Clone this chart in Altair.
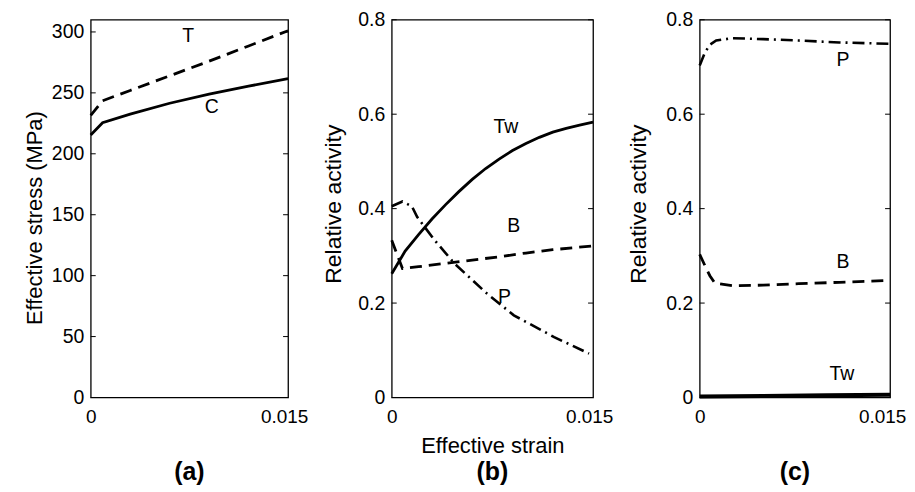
import altair as alt
import pandas as pd

FONT = "Liberation Sans"

# ---------------- data ----------------
# Panel (a): effective stress vs strain
a_strain = [0, 0.0009, 0.003, 0.006, 0.009, 0.012, 0.015]
a_T = [231.5, 243.5, 252, 264, 276, 288.5, 301]
a_C = [215.5, 225.5, 232.6, 241.5, 249, 255.5, 261.7]
a_labels = ["T", "C"]
a_lab_x = [0.0074, 0.0092]
a_lab_y = [297, 238]

# Panel (b): relative activity
b_tw_x = [0, 0.001, 0.002, 0.003, 0.004, 0.005, 0.006, 0.007, 0.008, 0.009, 0.010, 0.011, 0.012, 0.013, 0.014, 0.015]
b_tw_y = [0.262, 0.310, 0.345, 0.378, 0.408, 0.436, 0.462, 0.485, 0.505, 0.523, 0.538, 0.551, 0.562, 0.570, 0.577, 0.583]
b_b_x = [0, 0.0008, 0.002, 0.004, 0.006, 0.008, 0.010, 0.012, 0.015]
b_b_y = [0.333, 0.273, 0.277, 0.284, 0.291, 0.298, 0.306, 0.313, 0.321]
b_p_x = [0, 0.0008, 0.0015, 0.0019, 0.0032, 0.0047, 0.0071, 0.0091, 0.0121, 0.0147]
b_p_y = [0.405, 0.415, 0.405, 0.382, 0.333, 0.283, 0.220, 0.174, 0.128, 0.093]
b_labels = ["Tw", "B", "P"]
b_lab_x = [0.0085, 0.0091, 0.0084]
b_lab_y = [0.572, 0.364, 0.212]

# Panel (c): relative activity
c_p_x = [0, 0.0004, 0.0008, 0.0013, 0.0026, 0.005, 0.0078, 0.011, 0.015]
c_p_y = [0.703, 0.730, 0.747, 0.756, 0.761, 0.759, 0.756, 0.752, 0.749]
c_b_x = [0, 0.0004, 0.0008, 0.0012, 0.0026, 0.005, 0.0078, 0.011, 0.015]
c_b_y = [0.303, 0.280, 0.258, 0.242, 0.2365, 0.238, 0.241, 0.244, 0.248]
c_tw_x = [0, 0.005, 0.010, 0.015]
c_tw_y = [0.002, 0.003, 0.005, 0.006]
c_labels = ["P", "B", "Tw"]
c_lab_x = [0.0113, 0.0113, 0.0112]
c_lab_y = [0.714, 0.286, 0.050]

x_ticks = [0, 0.015]
a_yticks = [0, 50, 100, 150, 200, 250, 300]
bc_yticks = [0, 0.2, 0.4, 0.6, 0.8]

SOLID = dict(strokeWidth=2.8)
DASH = dict(strokeWidth=2.8, strokeDash=[12, 7])
DASHDOT = dict(strokeWidth=2.6, strokeDash=[12, 5, 2, 5])

H = 379
LBL = "'' + datum.value"


def panel(series, lab_x, lab_y, labels, ydom, yticks, ytitle, tfs, W,
          xtitle, letter, ext, tpad, xoff, ty):
    xax = dict(values=x_ticks, labelExpr=LBL, labelFlush=False, ticks=False,
               tickSize=0, domain=False, grid=False, labelPadding=10,
               labelFont=FONT, labelFontSize=19, labelColor="black",
               labelOffset={"condition": {"test": "datum.value > 0", "value": xoff}, "value": 0},
               minExtent=30, maxExtent=30)
    if xtitle:
        xax.update(title=xtitle, titlePadding=8, titleFontSize=22, titleFont=FONT,
                   titleFontWeight="normal", titleColor="black")
    else:
        xax["title"] = None
    x_enc = alt.X("x:Q", scale=alt.Scale(domain=[0, 0.015], nice=False, zero=False),
                  axis=alt.Axis(**xax))
    y_enc = alt.Y("y:Q", scale=alt.Scale(domain=ydom, nice=False, zero=False),
                  axis=alt.Axis(values=yticks, labelExpr=LBL, title=ytitle, ticks=False,
                                tickSize=0, domain=False, grid=False, labelPadding=7,
                                labelFont=FONT, labelFontSize=19.5, labelColor="black",
                                minExtent=ext, maxExtent=ext, titlePadding=tpad,
                                titleFontSize=tfs, titleFont=FONT, titleY=ty,
                                titleFontWeight="normal", titleColor="black"))
    layers = []
    for xs, ys, style in series:
        df = pd.DataFrame({"x": xs, "y": ys})
        layers.append(alt.Chart(df).mark_line(color="black", **style).encode(x=x_enc, y=y_enc))
    tdf = pd.DataFrame({"y": yticks})
    layers.append(alt.Chart(tdf).mark_rule(color="black", strokeWidth=1).encode(
        y=y_enc, x=alt.value(0), x2=alt.value(5)))
    layers.append(alt.Chart(tdf).mark_rule(color="black", strokeWidth=1).encode(
        y=y_enc, x=alt.value(W - 5), x2=alt.value(W)))
    ldf = pd.DataFrame({"x": lab_x, "y": lab_y, "label": labels})
    layers.append(alt.Chart(ldf).mark_text(font=FONT, fontSize=19.5, color="black",
                                           baseline="middle", align="center").encode(
        x=x_enc, y=y_enc, text="label:N"))
    letdf = pd.DataFrame({"t": [letter]})
    layers.append(alt.Chart(letdf).mark_text(font=FONT, fontSize=25, fontWeight="bold",
                                             color="black", baseline="middle").encode(
        text="t:N", x=alt.value(W / 2), y=alt.value(H + 75)))
    return alt.layer(*layers).properties(width=W, height=H)


pa = panel([(a_strain, a_T, DASH), (a_strain, a_C, SOLID)], a_lab_x, a_lab_y, a_labels,
           [0, 310], a_yticks, "Effective stress (MPa)", 22, 198, None, "(a)", 40, 4.5, -4,
           H / 2 + 9)
pb = panel([(b_tw_x, b_tw_y, SOLID), (b_b_x, b_b_y, DASH), (b_p_x, b_p_y, DASHDOT)],
           b_lab_x, b_lab_y, b_labels, [0, 0.8], bc_yticks, "Relative activity", 23, 202,
           "Effective strain", "(b)", 34, 12, -4, H / 2 - 5)
pc = panel([(c_p_x, c_p_y, DASHDOT), (c_b_x, c_b_y, DASH), (c_tw_x, c_tw_y, dict(strokeWidth=4))],
           c_lab_x, c_lab_y, c_labels, [0, 0.8], bc_yticks, "Relative activity", 23, 191,
           None, "(c)", 34, 15, -8, H / 2 - 5)

chart = alt.hconcat(pa, pb, pc, spacing=13).properties(
    padding={"left": 14, "top": 0, "right": 0, "bottom": 0},
    background="white"
).configure_view(stroke="black", strokeWidth=1.3)

chart.save("out.html", embed_options={"renderer": "svg", "actions": False})
